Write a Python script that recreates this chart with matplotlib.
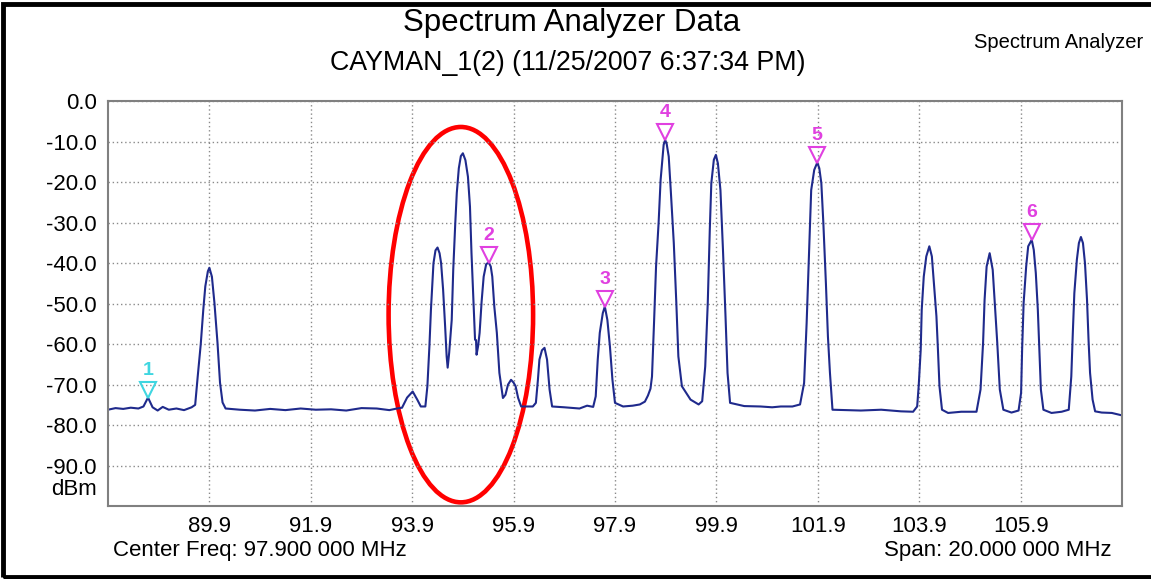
#Spectrum analyzer screenshot redrawn with matplotlib
#python3

import matplotlib
matplotlib.use('Agg')
import matplotlib.pyplot as plt
from matplotlib.patches import Ellipse, Rectangle
from matplotlib.transforms import offset_copy, blended_transform_factory

# trace (MHz, dBm)
TRACE_FREQ = [87.90, 88.05, 88.20, 88.35, 88.50, 88.60, 88.69, 88.78, 88.88, 88.98, 89.10, 89.25, 89.40, 89.55,
              89.62, 89.67, 89.73, 89.78, 89.82, 89.87, 89.90, 89.95, 90.00, 90.06, 90.11, 90.16, 90.22,
              90.50, 90.80, 91.10, 91.40, 91.70, 92.00, 92.30, 92.60, 92.90, 93.20, 93.45, 93.60,
              93.70, 93.80, 93.91, 94.00, 94.07, 94.16,
              94.20, 94.24, 94.27, 94.32, 94.36, 94.40, 94.44, 94.47, 94.51, 94.55, 94.58, 94.60,
              94.63, 94.68, 94.71, 94.75, 94.78, 94.82, 94.86, 94.90, 94.95, 95.00, 95.04, 95.07, 95.11, 95.14, 95.16, 95.17,
              95.20, 95.23, 95.27, 95.31, 95.36, 95.41, 95.45, 95.48, 95.52, 95.57, 95.62, 95.69,
              95.74, 95.79, 95.85, 95.90, 95.94, 95.99, 96.05, 96.28,
              96.34, 96.38, 96.41, 96.46, 96.51, 96.56, 96.61, 96.66,
              96.90, 97.20, 97.35, 97.47,
              97.52, 97.56, 97.60, 97.66, 97.70, 97.75, 97.80, 97.85, 97.90,
              98.06, 98.25, 98.39, 98.49, 98.55, 98.60,
              98.63, 98.67, 98.71, 98.76, 98.80, 98.86, 98.89, 98.92, 98.96, 99.00, 99.06, 99.11, 99.15, 99.22,
              99.39, 99.55, 99.62,
              99.68, 99.73, 99.77, 99.80, 99.85, 99.89, 99.93, 99.98, 100.03, 100.08, 100.12, 100.17,
              100.45, 100.77, 101.00, 101.17, 101.40, 101.55,
              101.63, 101.68, 101.73, 101.77, 101.83, 101.89, 101.93, 101.97, 102.01, 102.06, 102.10, 102.14, 102.19,
              102.50, 102.75, 103.15, 103.54, 103.78,
              103.86, 103.89, 103.93, 103.95, 103.99, 104.04, 104.10, 104.15, 104.19, 104.24, 104.27, 104.30, 104.35,
              104.47, 104.73, 105.03,
              105.11, 105.16, 105.19, 105.23, 105.29, 105.35, 105.39, 105.44, 105.49, 105.56,
              105.72, 105.86,
              105.91, 105.93, 105.96, 106.01, 106.05, 106.12, 106.16, 106.20, 106.24, 106.27, 106.30, 106.35,
              106.51, 106.71, 106.85,
              106.90, 106.93, 106.96, 107.01, 107.05, 107.09, 107.13, 107.17, 107.21, 107.24, 107.27, 107.32, 107.37,
              107.50, 107.70, 107.90]
TRACE_DBM = [-76.2, -75.8, -76.0, -75.7, -75.9, -75.4, -73.2, -75.6, -76.4, -75.5, -76.2, -75.9, -76.3, -75.6,
             -75.0, -68.0, -60.0, -51.5, -45.7, -42.0, -41.1, -43.3, -49.8, -59.6, -69.5, -74.4, -75.9,
             -76.2, -76.4, -76.0, -76.3, -75.9, -76.2, -76.1, -76.4, -75.8, -75.9, -76.3, -75.9,
             -75.7, -73.2, -71.7, -73.7, -75.4, -75.4,
             -70.4, -60.5, -51.5, -40.0, -36.8, -36.1, -37.5, -39.9, -46.5, -55.6, -63.0, -65.8,
             -62.1, -54.0, -41.6, -30.1, -22.6, -16.5, -13.5, -12.8, -14.5, -18.6, -26.0, -37.5, -49.4, -58.9, -59.0, -62.6,
             -60.5, -57.2, -49.4, -43.3, -40.2, -39.8, -40.8, -43.3, -50.7, -57.2, -67.1, -73.3,
             -72.5, -70.0, -68.8, -69.5, -70.4, -73.3, -75.4, -75.4,
             -74.5, -68.8, -63.8, -61.5, -60.9, -63.8, -71.2, -75.4,
             -75.6, -75.9, -75.2, -75.5,
             -72.9, -63.8, -57.2, -52.3, -50.7, -54.0, -60.5, -68.8, -74.5,
             -75.4, -75.2, -74.9, -74.2, -72.7, -71.0,
             -68.0, -54.8, -40.8, -30.1, -19.4, -10.7, -9.5, -10.5, -13.6, -21.9, -35.0, -49.8, -63.0, -70.4,
             -73.7, -74.9, -74.1,
             -65.5, -49.8, -31.7, -20.2, -14.4, -13.2, -15.3, -21.9, -36.7, -53.1, -67.1, -74.5,
             -75.3, -75.4, -75.6, -75.4, -75.4, -74.9,
             -69.6, -54.8, -36.7, -21.9, -16.9, -15.1, -16.5, -20.2, -30.1, -44.9, -58.1, -67.1, -76.2,
             -76.3, -76.4, -76.2, -76.6, -76.7,
             -75.4, -70.4, -61.4, -51.5, -43.3, -38.3, -35.8, -38.3, -44.9, -53.1, -61.4, -70.4, -76.2,
             -77.0, -76.7, -76.7,
             -71.2, -59.7, -49.0, -40.8, -37.5, -41.6, -49.8, -59.7, -71.2, -76.2,
             -76.9, -76.4,
             -72.0, -61.4, -49.8, -40.8, -35.8, -34.2, -36.7, -42.4, -51.5, -61.4, -71.2, -76.2,
             -77.0, -76.7, -76.2,
             -68.0, -57.2, -47.4, -39.1, -35.0, -33.5, -35.0, -40.0, -49.0, -58.9, -67.1, -73.7, -76.6,
             -76.9, -77.0, -77.6]

MARKER_IDS = ['1', '2', '3', '4', '5', '6']
MARKER_FREQ = [88.69, 95.41, 97.70, 98.89, 101.89, 106.12]
MARKER_DBM = [-73.2, -39.8, -50.7, -9.5, -15.1, -34.2]
MARKER_COLORS = ['#3fd6e0', '#e040e0', '#e040e0', '#e040e0', '#e040e0', '#e040e0']

X_TICKS = [89.9, 91.9, 93.9, 95.9, 97.9, 99.9, 101.9, 103.9, 105.9]
Y_TICKS = [0, -10, -20, -30, -40, -50, -60, -70, -80, -90]

plt.rcParams['font.family'] = ['Liberation Sans', 'DejaVu Sans']

fig = plt.figure(figsize=(11.51, 5.79), dpi=100)
ax = fig.add_axes([0.0938, 0.1261, 0.8810, 0.6986])

ax.plot(TRACE_FREQ, TRACE_DBM, color='#1f2a8c', lw=1.5)

# markers: tip of the triangle sits on the peak
tri = offset_copy(ax.transData, fig=fig, x=0, y=5.5, units='points')
lab = offset_copy(ax.transData, fig=fig, x=0, y=19.5, units='points')
for mid, f, d, c in zip(MARKER_IDS, MARKER_FREQ, MARKER_DBM, MARKER_COLORS):
    ax.plot([f], [d], marker='v', ms=12, mfc='none', mec=c, mew=1.5, transform=tri, clip_on=False)
    ax.text(f, d, mid, color=c, fontsize=14, fontweight='bold', ha='center', va='center', transform=lab)

ax.add_patch(Ellipse((94.86, -52.7), 2.85, 92.8, fill=False, ec='#ff0000', lw=3.3, clip_on=False))

ax.set_xlim(87.9, 107.9)
ax.set_ylim(-100, 0)
ax.set_xticks(X_TICKS)
ax.set_xticklabels(['%.1f' % t for t in X_TICKS])
ax.set_yticks(Y_TICKS)
ax.set_yticklabels(['%.1f' % t for t in Y_TICKS])
ax.tick_params(length=0, labelsize=16)
ax.tick_params(axis='y', pad=8)
ax.tick_params(axis='x', pad=7)
ax.grid(True, color='#8a8a8a', ls=(0, (1, 2)), lw=1)
for s in ax.spines.values():
    s.set_color('#808080')
    s.set_linewidth(1.5)

trans = blended_transform_factory(ax.transAxes, ax.transData)
ax.text(-0.011, -96, 'dBm', transform=trans, ha='right', va='center', fontsize=16)

fig.text(0.497, 0.960, 'Spectrum Analyzer Data', ha='center', va='center', fontsize=22.5)
fig.text(0.493, 0.892, 'CAYMAN_1(2) (11/25/2007 6:37:34 PM)', ha='center', va='center', fontsize=19.3)
fig.text(0.993, 0.927, 'Spectrum Analyzer', ha='right', va='center', fontsize=14.5)
fig.text(0.098, 0.050, 'Center Freq: 97.900 000 MHz', ha='left', va='center', fontsize=16)
fig.text(0.966, 0.050, 'Span: 20.000 000 MHz', ha='right', va='center', fontsize=16)

# black window frame (right side runs off the picture)
fig.patches.append(Rectangle((0.0022, 0.0035), 1.05, 0.989, transform=fig.transFigure,
                             fill=False, ec='black', lw=3.5))

fig.savefig('out.png', dpi=100)
